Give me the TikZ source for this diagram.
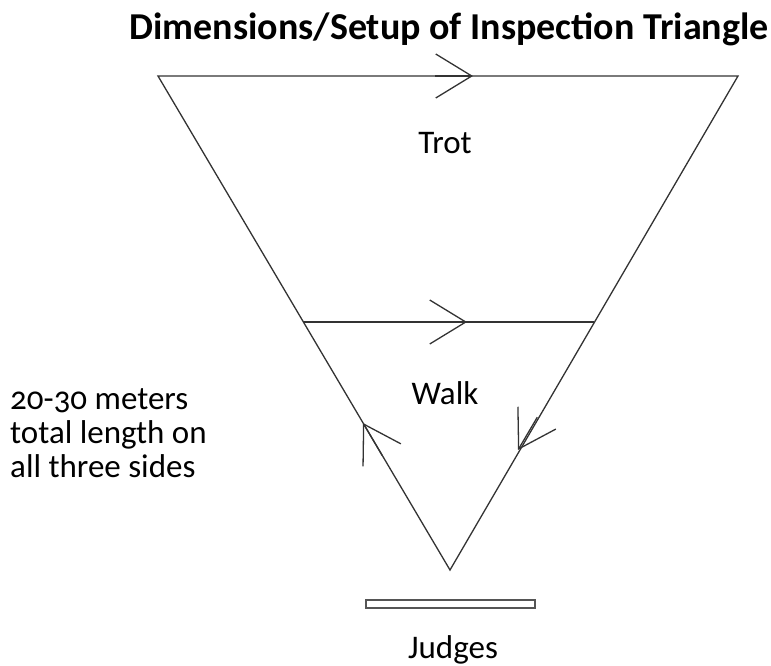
\documentclass[tikz,border=0pt]{standalone}
\usepackage{fontspec}
\setmainfont{Carlito}[Numbers=OldStyle]
\usepackage{xcolor}
\usetikzlibrary{calc,arrows.meta}
\definecolor{ink}{HTML}{333333}
\definecolor{rim}{HTML}{555555}
\tikzset{
  side/.style={draw=ink, line width=1.3pt},
  route/.style={-{Straight Barb[length=36pt, width=44pt, line width=1.3pt]}, draw=ink, line width=1.3pt},
  lab/.style={text=black, font=\fontsize{33}{34}\selectfont, inner sep=0pt},
  head/.style={text=black, font=\fontsize{38}{42}\selectfont\bfseries, inner sep=0pt},
  bench/.style={draw=rim, fill=white, line width=1.2pt}
}
\begin{document}
\begin{tikzpicture}[x=1pt, y=-1pt]
  \useasboundingbox (0,0) rectangle (771,665);
  \coordinate (A) at (158,76);   % top left corner
  \coordinate (B) at (738,76);   % top right corner
  \coordinate (C) at (450,570);  % bottom corner
  \coordinate (L) at (303,322);
  \coordinate (R) at (594,322);
  \coordinate (tAB) at (473,76);
  \coordinate (tBC) at (518,450);
  \coordinate (tCA) at (363,423);
  \coordinate (tLR) at (467,322);

  % outer triangle, then the arrow tips halfway
  \draw[side] (A) -- (B) -- (C) -- cycle;
  \draw[route] ($(tAB)!38pt!(A)$) -- (tAB);
  \draw[route] ($(tBC)!38pt!(B)$) -- (tBC);
  \draw[route] ($(tCA)!38pt!(C)$) -- (tCA);

  % cross line
  \draw[side] (L) -- (R);
  \draw[route] ($(tLR)!38pt!(L)$) -- (tLR);

  \draw[bench] (366,600) rectangle (535,608);

  \node[head, anchor=base] (title) at (449,39) {Dimensions/Setup of Inspection Triangle};
  \node[lab, anchor=base] (trot) at (445,153) {Trot};
  \node[lab, anchor=base] (walk) at (445,404) {Walk};
  \node[lab, anchor=base] (judges) at (453,658) {Judges};
  \node[lab, anchor=base west, align=left] (note) at (10,477) {20-30 meters\\total length on\\all three sides};
\end{tikzpicture}
\end{document}
